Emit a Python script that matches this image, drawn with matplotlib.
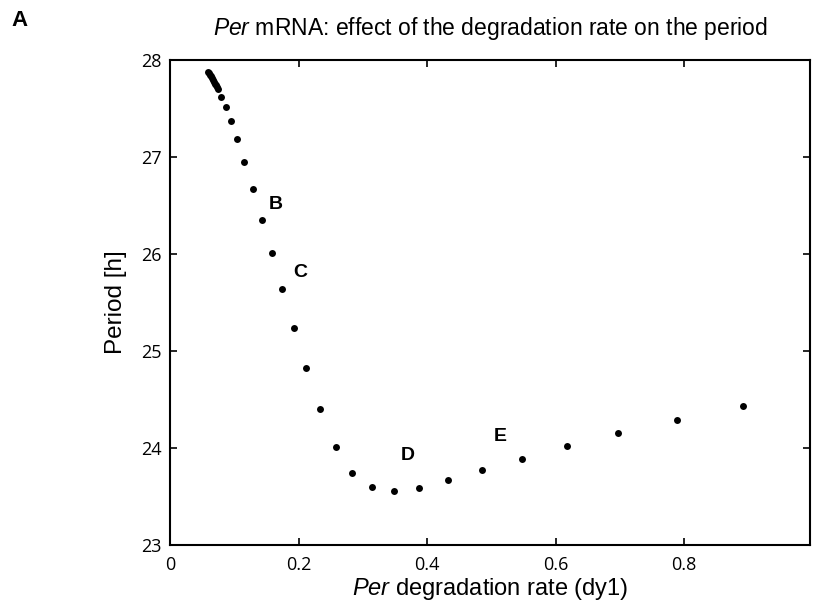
import matplotlib
matplotlib.use("Agg")
import matplotlib.pyplot as plt

plt.rcParams['font.family'] = ['Liberation Sans', 'DejaVu Sans']
plt.rcParams['mathtext.fontset'] = 'custom'
plt.rcParams['mathtext.it'] = 'Liberation Sans:italic'
plt.rcParams['mathtext.rm'] = 'Liberation Sans'

# Data
deg_rate = [0.0596, 0.061, 0.0625, 0.064, 0.0655, 0.067, 0.0685, 0.070, 0.0715, 0.073, 0.075,
            0.0794, 0.0867, 0.0945, 0.1038, 0.1156, 0.1292, 0.1432, 0.1583, 0.1748, 0.193,
            0.2121, 0.2331, 0.2579, 0.2837, 0.3144, 0.3491, 0.3875, 0.4331, 0.4861, 0.5474,
            0.6174, 0.6968, 0.7886, 0.8918]
period = [27.879, 27.865, 27.848, 27.830, 27.812, 27.794, 27.776, 27.757, 27.738, 27.719, 27.698,
          27.622, 27.515, 27.374, 27.186, 26.945, 26.667, 26.351, 26.007, 25.636, 25.240,
          24.822, 24.402, 24.013, 23.745, 23.595, 23.560, 23.591, 23.667, 23.770, 23.887,
          24.018, 24.152, 24.292, 24.436]

point_labels = ['B', 'C', 'D', 'E']
label_x = [0.165, 0.202, 0.370, 0.514]
label_y = [26.515, 25.81, 23.92, 24.12]

xticks = [0, 0.2, 0.4, 0.6, 0.8]
xticklabels = ['0', '0.2', '0.4', '0.6', '0.8']
yticks = [23, 24, 25, 26, 27, 28]

fig = plt.figure(figsize=(8.18, 6.09), dpi=100)
ax = fig.add_axes([170/818, 1-545/609, 640/818, 485/609])

ax.plot(deg_rate, period, 'o', color='black', markersize=5, markeredgewidth=0)

for lab, lx, ly in zip(point_labels, label_x, label_y):
    ax.text(lx, ly, lab, fontsize=14, fontweight='bold', ha='center', va='center')

ax.set_xlim(0, 0.996)
ax.set_ylim(23, 28)
ax.set_xticks(xticks)
ax.set_xticklabels(xticklabels)
ax.set_yticks(yticks)
ax.tick_params(direction='in', length=5, width=1.2, top=True, right=True)
ax.tick_params(axis='x', pad=8)
ax.tick_params(axis='y', pad=6)
for lbl in ax.get_xticklabels() + ax.get_yticklabels():
    lbl.set_fontfamily(['Open Sans', 'DejaVu Sans'])
    lbl.set_fontsize(13)
for s in ax.spines.values():
    s.set_linewidth(1.5)

ax.set_xlabel(r'$\it{Per}$ degradation rate (dy1)', fontsize=17, labelpad=1)
ax.set_ylabel('Period [h]', fontsize=17.5, labelpad=10)
ax.set_title(r'$\it{Per}$ mRNA: effect of the degradation rate on the period',
             fontsize=16.5, pad=18)

fig.text(20/818, 1-20/609, 'A', fontsize=16, fontweight='bold', ha='center', va='center')

fig.savefig('out.png', dpi=100)
